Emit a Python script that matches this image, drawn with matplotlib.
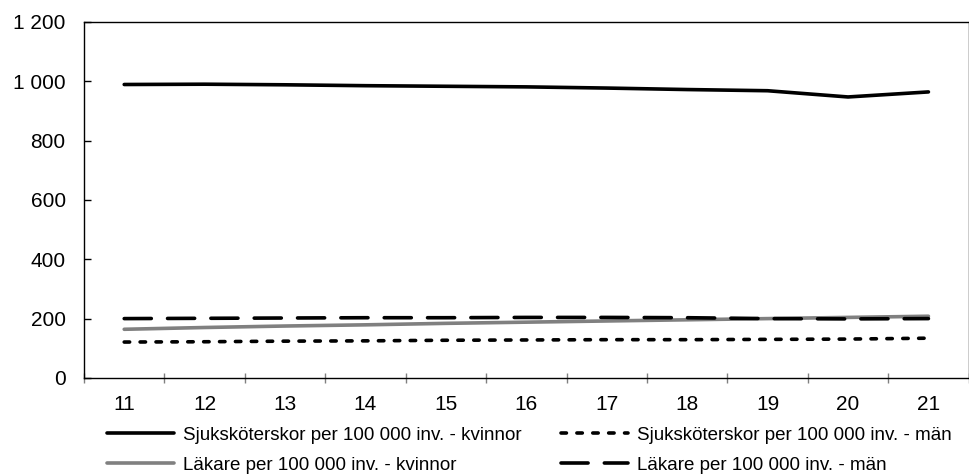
import numpy as np
import matplotlib.pyplot as plt
from matplotlib.ticker import FuncFormatter, FixedLocator

plt.rcParams['font.family'] = ['Liberation Sans', 'DejaVu Sans']

years = ['11', '12', '13', '14', '15', '16', '17', '18', '19', '20', '21']
ssk_kvinnor = [989, 990, 988, 985, 983, 981, 977, 972, 968, 947, 964]
ssk_man = [121, 122, 124, 125, 127, 128, 129, 129, 130, 131, 134]
lak_kvinnor = [164, 170, 175, 179, 184, 188, 192, 196, 200, 204, 208]
lak_man = [200, 201, 202, 203, 203, 204, 204, 203, 200, 199, 200]

labels = ['Sjuksköterskor per 100 000 inv. - kvinnor',
          'Sjuksköterskor per 100 000 inv. - män',
          'Läkare per 100 000 inv. - kvinnor',
          'Läkare per 100 000 inv. - män']

fig = plt.figure(figsize=(9.7, 4.76), dpi=100)
ax = fig.add_axes([0.0866, 0.206, 0.912, 0.748])

x = np.arange(len(years))
lw = 2.6
l1, = ax.plot(x, ssk_kvinnor, color='black', lw=lw, solid_capstyle='round')
l2, = ax.plot(x, ssk_man, color='black', lw=lw, dashes=(1.5, 2.9), dash_capstyle='round')
l3, = ax.plot(x, lak_kvinnor, color='#808080', lw=lw, solid_capstyle='round')
l4, = ax.plot(x, lak_man, color='black', lw=lw, dashes=(7.5, 4.5), dash_capstyle='round')
# mens doctor line sits on top of the grey one
l4.set_zorder(3)

ax.set_xlim(-0.5, len(years) - 0.5)
ax.set_ylim(0, 1200)
ax.set_yticks(range(0, 1201, 200))
ax.yaxis.set_major_formatter(FuncFormatter(lambda v, p: f'{int(v):,}'.replace(',', ' ')))

ax.set_xticks(x)
ax.set_xticklabels(years)
ax.xaxis.set_minor_locator(FixedLocator(np.arange(-0.5, len(years), 1.0)))
ax.tick_params(axis='x', which='major', length=0, labelsize=15, pad=12)
ax.tick_params(axis='x', which='minor', length=7, direction='inout', color='#808080', width=1)
ax.tick_params(axis='y', which='major', length=5, direction='in', labelsize=15, pad=13.2, width=1)

for s in ax.spines.values():
    s.set_linewidth(1)
    s.set_color('black')

# row-wise order: matplotlib fills legend columns first
fig.legend([l1, l3, l2, l4], [labels[0], labels[2], labels[1], labels[3]],
           loc='upper left', bbox_to_anchor=(0.110, 0.104),
           ncol=2, frameon=False, fontsize=13.5, handlelength=3.6, handletextpad=0.45,
           columnspacing=2.1, labelspacing=0.7, borderpad=0, borderaxespad=0)

fig.savefig('out.png', dpi=100)
